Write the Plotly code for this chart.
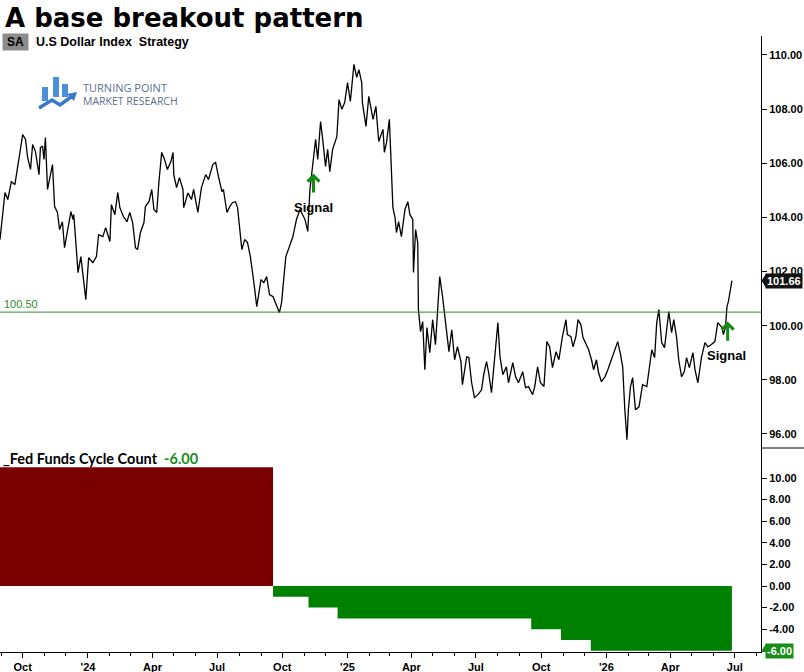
import pandas as pd
import plotly.graph_objects as go

# ---------------- data ----------------
BASE_DATE = "2023-10-01"
# day offsets (from BASE_DATE) and U.S Dollar Index closes
price_days = [
    -32, -28, -25, -21, -16, -11, -7, -3, 0, 4, 7, 11, 14, 18, 23, 25, 28, 30,
    32, 35, 42, 45, 49, 52, 56, 59, 63, 68, 71, 72, 76, 78, 82, 85, 89, 93, 99, 104,
    107, 113, 117, 123, 125, 130, 134, 137, 142, 147, 151, 155, 159, 162, 166, 171, 173, 178, 182, 185,
    189, 192, 196, 200, 204, 209, 212, 213, 217, 221, 226, 227, 233,
    238, 241, 247, 252, 258, 262, 268, 272, 276, 281, 283, 288, 292, 296, 300, 303, 309, 313, 317, 321,
    326, 330, 336, 340, 344, 348, 353, 358, 362, 365, 371, 376, 381, 386, 391, 398, 402, 405, 409, 413,
    416, 420, 423, 427, 430, 433, 437, 443, 446, 450, 454, 458, 462, 467, 471, 474, 478, 479, 484, 488,
    494, 498, 502, 508, 510, 513, 517, 522, 525, 527, 530, 534, 539, 543, 546, 550, 551, 554, 557, 558,
    561, 564, 567, 570, 574, 578, 582, 585, 588, 592, 595, 598, 601, 605, 609, 613, 618, 620, 626, 629,
    633, 637, 642, 647, 650, 654, 657, 661, 666, 670, 673, 677, 682, 685, 691, 695, 699, 705, 709, 713,
    719, 722, 726, 730, 735, 739,
    743, 747, 752, 756, 761, 766, 768, 773, 776, 780, 783, 787, 790, 795, 798, 802, 805, 809, 812, 816,
    821, 825, 830, 835, 839, 843, 846, 849, 852, 854, 857, 860, 864, 869, 874, 880, 883, 887, 891, 894,
    897, 901, 905, 908, 911, 915, 918, 922, 925, 929, 933, 936, 940, 945, 948, 952, 957, 962, 966, 971,
    976, 980, 986, 988, 991, 993, 995, 1000,
]
price_values = [
    103.18, 104.29, 104.92, 104.66, 105.32, 105.21, 105.88, 106.40, 107.06, 106.88, 106.21, 105.77, 106.69, 106.43, 105.58, 106.58, 106.62, 106.14,
    106.95, 105.03, 105.95, 104.40, 104.18, 103.55, 103.84, 102.88, 103.55, 104.21, 103.92, 104.10, 102.70, 101.96, 102.55, 101.81, 100.96, 102.51, 102.33, 102.55,
    103.36, 103.29, 103.62, 103.11, 104.47, 104.10, 104.92, 104.36, 104.03, 103.84, 104.18, 103.81, 102.88, 102.81, 103.44, 103.81, 104.40, 104.58, 105.03, 104.29,
    104.18, 105.29, 106.40, 106.14, 105.77, 106.06, 106.40, 105.58, 105.10, 105.47, 105.03, 104.36, 104.90,
    104.66, 105.03, 104.18, 105.10, 105.58, 105.40, 105.95, 106.03, 105.51, 104.95, 105.03, 104.18, 104.40, 104.55, 104.58, 104.36, 102.81, 103.18, 103.07, 102.55,
    101.59, 100.70, 101.70, 101.59, 101.81, 101.15, 101.07, 100.70, 100.48, 100.85, 102.55, 102.92, 103.29, 103.92, 104.29, 103.92, 103.48, 105.03, 106.03, 106.88,
    106.14, 107.54, 106.88, 105.88, 106.51, 105.69, 106.51, 106.99, 108.35, 107.99, 108.24, 108.98, 108.28, 109.65, 109.17, 109.46, 108.98, 108.24, 107.36, 108.47,
    107.62, 108.10, 106.80, 107.25, 106.40, 106.77, 107.62, 104.36, 103.99, 103.44, 103.84, 103.29, 104.29, 104.58, 104.10, 103.92, 101.96, 103.55, 103.07, 100.59,
    99.78, 100.15, 98.37, 99.93, 99.00, 100.22, 99.30, 100.70, 101.81, 101.07, 100.33, 99.85, 99.04, 99.85, 98.74, 99.22, 98.67, 97.82, 98.85, 98.82,
    97.89, 97.34, 97.45, 97.63, 98.19, 98.67, 98.26, 97.52, 98.82, 100.11, 98.85, 98.19, 98.48, 97.89, 98.63, 98.11, 97.89, 98.30, 97.71, 97.75,
    97.45, 97.75, 98.48, 97.89, 97.75, 99.41,
    99.22, 98.45, 99.04, 98.74, 99.59, 100.22, 99.67, 99.59, 99.22, 99.59, 100.22, 100.04, 99.56, 99.30, 99.11, 98.74, 98.37, 98.74, 98.26, 97.93,
    98.11, 98.37, 98.74, 99.19, 99.41, 98.93, 98.48, 96.89, 95.79, 96.89, 97.75, 98.08, 96.89, 97.00, 97.82, 97.75, 98.37, 99.11, 98.82, 100.11,
    100.59, 99.37, 99.19, 99.85, 100.52, 99.74, 100.22, 99.56, 98.74, 98.11, 98.30, 98.82, 98.45, 99.00, 98.37, 97.89, 98.82, 99.37, 99.22, 99.30,
    99.41, 100.11, 99.93, 99.67, 99.96, 100.70, 100.89, 101.66,
]
assert len(price_days) == len(price_values)

breakout_level = 100.50
last_price = 101.66

# Fed Funds Cycle Count (step series)
cycle_dates = ["2023-08-30", "2024-09-18", "2024-11-07", "2024-12-18",
               "2025-09-17", "2025-10-29", "2025-12-10"]
cycle_values = [11, -1, -2, -3, -4, -5, -6]
cycle_end = "2026-06-27"
last_cycle = -6.00

# signals: date, arrow tip value, label date / value
signal_dates = ["2024-11-14", "2026-06-21"]
signal_tip = [105.58, 100.11]
signal_label_dates = ["2024-11-14", "2026-06-20"]
signal_label_y = [104.36, 98.89]

price_ticks = [96, 98, 100, 102, 104, 106, 108, 110]
cycle_ticks = [-4, -2, 0, 2, 4, 6, 8, 10]
x_tick_dates = ["2023-10-01", "2024-01-01", "2024-04-01", "2024-07-01", "2024-10-01",
                "2025-01-01", "2025-04-01", "2025-07-01", "2025-10-01", "2026-01-01",
                "2026-04-01", "2026-07-01"]
x_tick_labels = ["Oct", "'24", "Apr", "Jul", "Oct", "'25", "Apr", "Jul", "Oct", "'26", "Apr", "Jul"]

# ---------------- layout geometry ----------------
W, H = 804, 672
ML, MR, MT, MB = 0, 43, 36, 20
PW, PH = W - ML - MR, H - MT - MB
SPLIT = (H - MB - 448) / PH  # panel boundary (paper)


def px(xp):
    return (xp - ML) / PW


def py(yp):
    return (H - MB - yp) / PH


base = pd.Timestamp(BASE_DATE)
price_dates = [base + pd.Timedelta(days=d) for d in price_days]

fig = go.Figure()

fig.add_trace(go.Scatter(x=price_dates, y=price_values, mode="lines",
                         line=dict(color="black", width=1.3), xaxis="x", yaxis="y",
                         hoverinfo="skip"))

# cycle count: positive (red) and negative (green) filled step areas
pos_x, pos_y, neg_x, neg_y = [], [], [], []
for i, (d, v) in enumerate(zip(cycle_dates, cycle_values)):
    nxt = cycle_dates[i + 1] if i + 1 < len(cycle_dates) else cycle_end
    if v > 0:
        pos_x += [d, nxt]
        pos_y += [v, v]
    else:
        neg_x += [d, nxt]
        neg_y += [v, v]

fig.add_trace(go.Scatter(x=pos_x, y=pos_y, mode="lines", line=dict(width=0, color="#7b0000"),
                         fill="tozeroy", fillcolor="#7b0000", xaxis="x", yaxis="y2",
                         hoverinfo="skip"))
fig.add_trace(go.Scatter(x=neg_x, y=neg_y, mode="lines", line=dict(width=0, color="#008000"),
                         fill="tozeroy", fillcolor="#008000", xaxis="x", yaxis="y2",
                         hoverinfo="skip"))

minor_vals = [d.strftime("%Y-%m-%d") for d in pd.date_range("2023-09-01", "2026-08-01", freq="MS")]

axis_font = dict(family="Liberation Sans, Arial", size=11, color="black", weight="bold")

fig.update_layout(
    width=W, height=H,
    margin=dict(l=ML, r=MR, t=MT, b=MB),
    paper_bgcolor="white", plot_bgcolor="white",
    showlegend=False,
    xaxis=dict(
        type="date", range=["2023-08-30", "2026-08-07"], anchor="y2",
        showline=True, linecolor="black", linewidth=1, showgrid=False, zeroline=False,
        ticks="outside", ticklen=5, tickcolor="black",
        tickmode="array", tickvals=x_tick_dates, ticktext=x_tick_labels,
        tickfont=axis_font,
        minor=dict(tickmode="array", tickvals=minor_vals, ticks="outside", ticklen=3,
                   tickcolor="black", showgrid=False),
    ),
    yaxis=dict(
        domain=[SPLIT, 1], anchor="x", side="right", range=[95.48, 110.70],
        showline=True, linecolor="black", linewidth=1, showgrid=False, zeroline=False,
        ticks="outside", ticklen=5, tickcolor="black",
        tickmode="array", tickvals=price_ticks, ticktext=[f"{v:.2f}" for v in price_ticks],
        tickfont=axis_font,
    ),
    yaxis2=dict(
        domain=[0, SPLIT], anchor="x", side="right", range=[-6.11, 12.78],
        showline=True, linecolor="black", linewidth=1, showgrid=False, zeroline=False,
        ticks="outside", ticklen=5, tickcolor="black",
        tickmode="array", tickvals=cycle_ticks, ticktext=[f"{v:.2f}" for v in cycle_ticks],
        tickfont=axis_font,
    ),
)

shapes = []
annotations = []

# breakout line
shapes.append(dict(type="line", xref="paper", yref="y", x0=0, x1=1, y0=breakout_level,
                   y1=breakout_level, line=dict(color="#2e8b2e", width=1)))
annotations.append(dict(xref="paper", yref="y", x=px(2), y=breakout_level, text=f"{breakout_level:.2f}",
                        showarrow=False, xanchor="left", yanchor="bottom", yshift=0,
                        font=dict(family="Liberation Sans, Arial", size=11, color="#2e8b2e")))

# separator right of panels
shapes.append(dict(type="line", xref="paper", yref="paper", x0=1, x1=W / PW, y0=SPLIT, y1=SPLIT,
                   line=dict(color="black", width=1)))

# title and subtitle
annotations.append(dict(xref="paper", yref="paper", x=px(3), y=py(18), text="<b>A base breakout pattern</b>",
                        showarrow=False, xanchor="left", yanchor="middle",
                        font=dict(family="DejaVu Sans", size=26, color="black")))
annotations.append(dict(xref="paper", yref="paper", x=px(2), y=py(42), text="<b>SA</b>",
                        showarrow=False, xanchor="left", yanchor="middle", bgcolor="#8c8c8c",
                        borderpad=1, width=23,
                        font=dict(family="Liberation Sans, Arial", size=12, color="black")))
annotations.append(dict(xref="paper", yref="paper", x=px(34), y=py(42),
                        text="<b>U.S Dollar Index\u00a0 Strategy</b>",
                        showarrow=False, xanchor="left", yanchor="middle",
                        font=dict(family="Liberation Sans, Arial", size=12.5, color="black")))

# logo
logo_blue = "#4a8fd8"
for (x0, x1, y0, y1) in [(42, 48, 87, 101), (53, 59, 77, 97), (62, 68, 84, 97)]:
    shapes.append(dict(type="rect", xref="paper", yref="paper", x0=px(x0), x1=px(x1),
                       y0=py(y1), y1=py(y0), line=dict(width=0), fillcolor=logo_blue))
zig = [(39, 108), (52, 100), (60, 105), (71, 97)]
path = "M " + " L ".join(f"{px(a)},{py(b)}" for a, b in zig)
shapes.append(dict(type="path", xref="paper", yref="paper", path=path,
                   line=dict(color="#3a78c8", width=3.5)))
head = [(77, 92), (67, 94), (74, 101)]
shapes.append(dict(type="path", xref="paper", yref="paper",
                   path="M " + " L ".join(f"{px(a)},{py(b)}" for a, b in head) + " Z",
                   line=dict(width=0), fillcolor="#3a78c8"))
annotations.append(dict(xref="paper", yref="paper", x=px(81), y=py(88), text="TURNING POINT",
                        showarrow=False, xanchor="left", yanchor="middle",
                        font=dict(family="Open Sans", size=11, color="#5d6f8f")))
annotations.append(dict(xref="paper", yref="paper", x=px(81), y=py(101.5), text="MARKET RESEARCH",
                        showarrow=False, xanchor="left", yanchor="middle",
                        font=dict(family="Open Sans", size=10.5, color="#5d6f8f")))

# signals: up arrows drawn as pixel-sized paths anchored at the signal point
for d, tip, ld, ly in zip(signal_dates, signal_tip, signal_label_dates, signal_label_y):
    shapes.append(dict(type="path", xref="x", yref="y", xsizemode="pixel", ysizemode="pixel",
                       xanchor=d, yanchor=tip,
                       path="M 0,-1 L 0,-18 M -6,-7 L 0,-1 L 6,-7",
                       line=dict(color="#138a13", width=3)))
    annotations.append(dict(xref="x", yref="y", x=ld, y=ly, text="<b>Signal</b>", showarrow=False,
                            xanchor="center", yanchor="middle",
                            font=dict(family="Liberation Sans, Arial", size=13, color="black")))

# lower panel title
annotations.append(dict(xref="paper", yref="paper", x=px(1), y=py(458),
                        text="<b>_Fed Funds Cycle Count\u00a0 <span style='color:#1a8c1a'>"
                             f"{last_cycle:.2f}</span></b>",
                        showarrow=False, xanchor="left", yanchor="middle",
                        font=dict(family="Lato", size=14.5, color="black")))

# last value boxes on the right axis
for yref, val, col, dy in [("y", last_price, "#111111", 0.26), ("y2", last_cycle, "#1a8c1a", 0.65)]:
    annotations.append(dict(xref="paper", yref=yref, x=1 + 4 / PW, y=val, text=f"<b>{val:.2f}</b>",
                            showarrow=False, xanchor="left", yanchor="middle", bgcolor=col,
                            borderpad=1, font=dict(family="Liberation Sans, Arial", size=11, color="white")))
    shapes.append(dict(type="path", xref="paper", yref=yref,
                       path=f"M {1 + 0.5 / PW},{val} L {1 + 5 / PW},{val + dy} L {1 + 5 / PW},{val - dy} Z",
                       line=dict(width=0), fillcolor=col))

fig.update_layout(shapes=shapes, annotations=annotations)

fig.write_html("out.html")
